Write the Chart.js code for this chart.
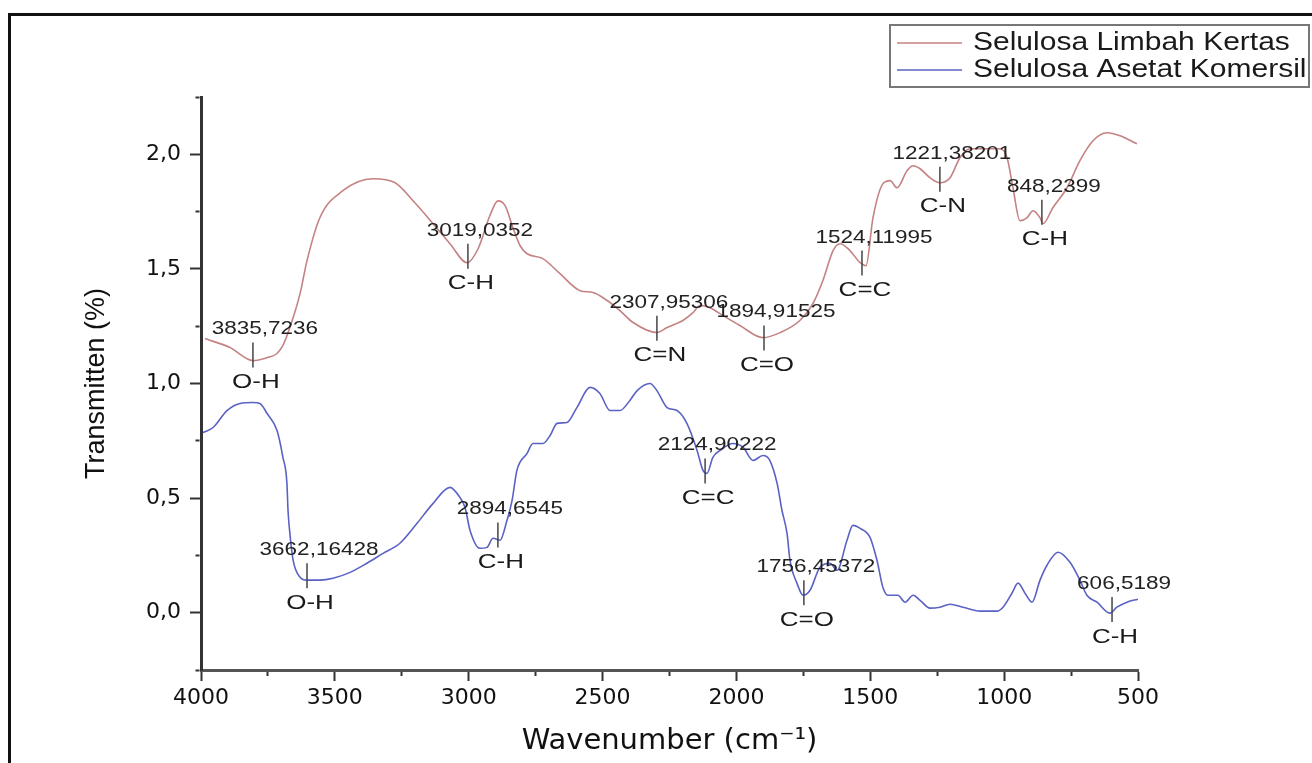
<!DOCTYPE html>
<html>
<head>
<meta charset="utf-8">
<script src="https://cdn.jsdelivr.net/npm/chart.js@4.4.1/dist/chart.umd.min.js"></script>
<style>
  html, body { margin: 0; padding: 0; background: #fff; }
  #wrap { width: 1312px; height: 763px; }
</style>
</head>
<body>
<div id="wrap"><canvas id="ftir" width="1312" height="763"></canvas></div>
<script>
// FTIR spectra, values
const limbahWn = [3985, 3892, 3806, 3753, 3716, 3694, 3668, 3630, 3604, 3556, 3470, 3358, 3275, 3208, 3133, 3070,
    3006, 2965, 2921, 2891, 2864, 2835, 2808, 2782, 2723, 2659, 2584, 2536, 2483, 2435, 2386, 2297, 2259, 2200,
    2162, 2136, 2099, 2050, 1987, 1901, 1837, 1763, 1714, 1677, 1639, 1613, 1576, 1538, 1516, 1490, 1453, 1426,
    1400, 1363, 1340, 1314, 1277, 1240, 1202, 1165, 1128, 1064, 1016, 989, 967, 941, 915, 892, 866, 855, 818,
    765, 717, 668, 616, 567, 504];
const limbahT = [1.196, 1.157, 1.100, 1.113, 1.131, 1.166, 1.244, 1.392, 1.536, 1.723, 1.841, 1.893, 1.876, 1.797,
    1.697, 1.610, 1.527, 1.588, 1.732, 1.797, 1.776, 1.680, 1.601, 1.566, 1.545, 1.479, 1.405, 1.397, 1.362, 1.318,
    1.266, 1.222, 1.244, 1.275, 1.309, 1.340, 1.331, 1.296, 1.253, 1.200, 1.222, 1.275, 1.349, 1.449, 1.580, 1.610,
    1.580, 1.527, 1.514, 1.723, 1.871, 1.885, 1.854, 1.928, 1.950, 1.937, 1.898, 1.876, 1.898, 1.985, 2.024, 2.024,
    2.024, 1.985, 1.854, 1.710, 1.723, 1.754, 1.723, 1.697, 1.767, 1.854, 1.972, 2.059, 2.094, 2.081, 2.046];

const asetatWn = [3993, 3955, 3903, 3854, 3806, 3780, 3753, 3716, 3694, 3679, 3675, 3668, 3656, 3630, 3604, 3556,
    3507, 3443, 3380, 3320, 3257, 3193, 3133, 3070, 3033, 3014, 2995, 2958, 2932, 2909, 2883, 2857, 2838, 2820,
    2782, 2760, 2723, 2696, 2670, 2633, 2596, 2547, 2510, 2472, 2435, 2398, 2371, 2323, 2297, 2259, 2222, 2185,
    2147, 2125, 2110, 2088, 2061, 2013, 1975, 1938, 1901, 1875, 1848, 1830, 1811, 1800, 1774, 1751, 1725, 1688,
    1650, 1624, 1587, 1565, 1538, 1501, 1475, 1453, 1434, 1397, 1370, 1340, 1314, 1277, 1240, 1202, 1154, 1090,
    1027, 1004, 971, 948, 922, 896, 866, 840, 799, 754, 717, 691, 653, 605, 579, 541, 500];
const asetatT = [0.786, 0.808, 0.882, 0.913, 0.917, 0.913, 0.869, 0.795, 0.678, 0.564, 0.447, 0.346, 0.229, 0.155,
    0.142, 0.142, 0.150, 0.176, 0.216, 0.259, 0.303, 0.390, 0.477, 0.547, 0.503, 0.460, 0.359, 0.281, 0.285, 0.325,
    0.316, 0.403, 0.490, 0.621, 0.695, 0.738, 0.738, 0.773, 0.826, 0.830, 0.895, 0.983, 0.956, 0.882, 0.882, 0.926,
    0.969, 1.000, 0.969, 0.895, 0.882, 0.826, 0.708, 0.621, 0.608, 0.678, 0.708, 0.738, 0.721, 0.664, 0.686, 0.664,
    0.564, 0.447, 0.346, 0.229, 0.129, 0.076, 0.098, 0.198, 0.216, 0.185, 0.316, 0.381, 0.368, 0.329, 0.229, 0.111,
    0.076, 0.076, 0.046, 0.076, 0.054, 0.020, 0.024, 0.037, 0.024, 0.007, 0.007, 0.024, 0.085, 0.129, 0.085, 0.046,
    0.142, 0.207, 0.264, 0.220, 0.142, 0.076, 0.046, -0.002, 0.024, 0.046, 0.059];

const seriesNames = ['Selulosa Limbah Kertas', 'Selulosa Asetat Komersil'];

// labelled peaks: number, functional group, marker position (wavenumber, transmittance at marker top)
const peakNumber = ['3835,7236', '3019,0352', '2307,95306', '1894,91525', '1524,11995', '1221,38201', '848,2399',
    '3662,16428', '2894,6545', '2124,90222', '1756,45372', '606,5189'];
const peakGroup = ['O-H', 'C-H', 'C=N', 'C=O', 'C=C', 'C-N', 'C-H', 'O-H', 'C-H', 'C=C', 'C=O', 'C-H'];
const peakWn = [3806, 3003, 2297, 1897, 1531, 1240, 859, 3604, 2891, 2117, 1748, 597];
const peakT = [1.179, 1.610, 1.296, 1.253, 1.580, 1.946, 1.802, 0.216, 0.394, 0.673, 0.142, 0.068];

const tickFont = { family: '"DejaVu Sans", sans-serif', size: 22 };

function drawStretched(ctx, text, x, y, font, sx, align) {
    ctx.save();
    ctx.font = font;
    ctx.translate(x, y);
    ctx.scale(sx, 1);
    ctx.textAlign = align || 'center';
    ctx.textBaseline = 'middle';
    ctx.fillText(text, 0, 0);
    ctx.restore();
}

const framePlugin = {
    id: 'frame',
    beforeDraw(chart) {
        const ctx = chart.ctx;
        ctx.save();
        ctx.fillStyle = '#fff';
        ctx.fillRect(0, 0, chart.width, chart.height);
        ctx.strokeStyle = '#111';
        ctx.lineWidth = 3;
        ctx.strokeRect(9.5, 14.5, chart.width + 20, chart.height + 20);
        ctx.restore();
    }
};

const peakPlugin = {
    id: 'peaks',
    afterDatasetsDraw(chart) {
        const { ctx, scales: { x, y } } = chart;
        peakWn.forEach((wn, i) => {
            const px = x.getPixelForValue(wn);
            const top = y.getPixelForValue(peakT[i]);
            const bot = top + 25;
            ctx.save();
            ctx.strokeStyle = '#444';
            ctx.lineWidth = 1.5;
            ctx.beginPath();
            ctx.moveTo(px, top);
            ctx.lineTo(px, bot);
            ctx.stroke();
            ctx.fillStyle = '#222';
            drawStretched(ctx, peakNumber[i], px + 12, top - 13, '18px "Liberation Sans"', 1.25);
            ctx.fillStyle = '#1a1a1a';
            drawStretched(ctx, peakGroup[i], px + 3, bot + 15, '20px "Liberation Sans"', 1.3);
            ctx.restore();
        });
    }
};

// legend in a box, two rows, top right
const boxLegendPlugin = {
    id: 'boxLegend',
    afterDraw(chart) {
        const ctx = chart.ctx;
        ctx.save();
        ctx.strokeStyle = '#777';
        ctx.lineWidth = 2;
        ctx.strokeRect(890, 25, 419, 62);
        chart.data.datasets.forEach((ds, i) => {
            const yy = 43 + i * 27;
            ctx.strokeStyle = ds.borderColor;
            ctx.lineWidth = 1.6;
            ctx.beginPath();
            ctx.moveTo(897, yy);
            ctx.lineTo(962, yy);
            ctx.stroke();
            ctx.fillStyle = '#1a1a1a';
            drawStretched(ctx, ds.label, 973, yy, '25px "Liberation Sans"', 1.2, 'left');
        });
        ctx.restore();
    }
};

new Chart(document.getElementById('ftir'), {
    type: 'line',
    data: {
        datasets: [{
            label: seriesNames[0],
            data: limbahWn.map((w, i) => ({ x: w, y: limbahT[i] })),
            borderColor: '#c48282',
            borderWidth: 1.6,
            pointRadius: 0,
            cubicInterpolationMode: 'monotone'
        }, {
            label: seriesNames[1],
            data: asetatWn.map((w, i) => ({ x: w, y: asetatT[i] })),
            borderColor: '#5a62c4',
            borderWidth: 1.6,
            pointRadius: 0,
            cubicInterpolationMode: 'monotone'
        }]
    },
    options: {
        responsive: false,
        animation: false,
        devicePixelRatio: 1,
        layout: { padding: { left: 0, right: 174, top: 97, bottom: 0 } },
        plugins: {
            legend: { display: false },
            tooltip: { enabled: false }
        },
        scales: {
            x: {
                type: 'linear',
                reverse: true,
                min: 500,
                max: 4000,
                afterFit(scale) { scale.height = 93; },
                border: { display: true, color: '#555', width: 3 },
                grid: {
                    drawOnChartArea: false,
                    tickLength: 11,
                    tickWidth: 2,
                    tickColor: '#333',
                    tickBorderDash: c => (c.tick && c.tick.value % 500 !== 0) ? [4, 50] : []
                },
                ticks: {
                    stepSize: 250,
                    padding: 4,
                    color: '#111',
                    font: tickFont,
                    maxRotation: 0,
                    autoSkip: false,
                    callback: v => (v % 500 === 0 ? String(v) : '')
                },
                title: {
                    display: true,
                    text: 'Wavenumber (cm⁻¹)',
                    color: '#111',
                    font: { family: '"DejaVu Sans", sans-serif', size: 29 },
                    padding: { top: 0, bottom: 4 }
                }
            },
            y: {
                min: -0.25,
                max: 2.25,
                afterFit(scale) { scale.width = 201; },
                border: { display: true, color: '#333', width: 3 },
                grid: {
                    drawOnChartArea: false,
                    tickLength: 11,
                    tickWidth: 2,
                    tickColor: '#333',
                    tickBorderDash: c => {
                        if (!c.tick) return [];
                        const h = c.tick.value * 2;
                        return Math.abs(h - Math.round(h)) > 1e-6 ? [0, 5.5, 4, 50] : [];
                    }
                },
                ticks: {
                    stepSize: 0.25,
                    padding: 9,
                    color: '#111',
                    font: tickFont,
                    autoSkip: false,
                    callback: v => {
                        const h = v * 2;
                        if (Math.abs(h - Math.round(h)) > 1e-6) return '';
                        return (Math.round(v * 10) / 10).toFixed(1).replace('.', ',');
                    }
                },
                title: {
                    display: true,
                    text: 'Transmitten (%)',
                    color: '#111',
                    font: { family: '"Liberation Sans", Arial, sans-serif', size: 27 },
                    padding: { top: 80, bottom: 0 }
                }
            }
        }
    },
    plugins: [framePlugin, peakPlugin, boxLegendPlugin]
});
</script>
</body>
</html>
